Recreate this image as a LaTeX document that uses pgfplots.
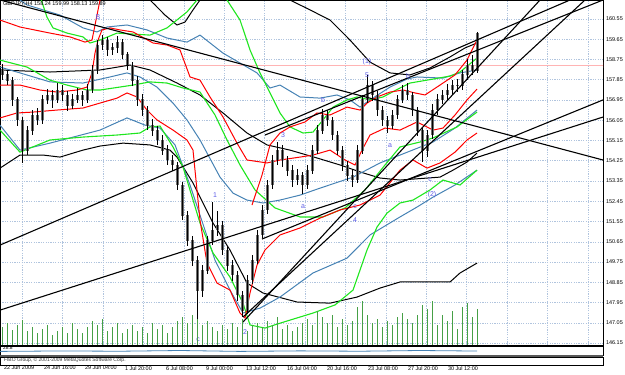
\documentclass[border=0pt]{standalone}
\usepackage{pgfplots}
\pgfplotsset{compat=1.18}
\usepackage{pgfplotstable}
\usepackage{fontspec}
\setmainfont{Liberation Sans}
\definecolor{mtred}{RGB}{255,0,0}
\definecolor{mtgreen}{RGB}{30,230,30}
\definecolor{mtblue}{RGB}{70,130,180}
\definecolor{mtgrid}{RGB}{176,196,222}
\definecolor{mtlbl}{RGB}{90,90,230}
\definecolor{mtvol}{RGB}{70,160,70}
\definecolor{mtbody}{RGB}{110,110,110}

\pgfplotstableread{
x o h l c
2 158.30 158.55 157.85 158.06
7 158.06 158.25 157.60 157.83
12 157.83 157.95 156.70 156.95
17 156.95 157.10 155.80 156.06
22 156.06 156.20 154.15 154.72
27 154.72 155.80 154.50 155.61
32 155.61 156.50 155.40 156.28
37 156.28 156.60 155.85 156.06
42 156.06 157.15 155.90 156.95
47 156.95 157.45 156.75 157.17
52 157.17 157.40 156.60 156.95
57 156.95 157.70 156.80 157.39
62 157.39 157.60 156.90 157.17
67 157.17 157.35 156.45 156.72
72 156.72 157.20 156.55 156.95
77 156.95 157.50 156.80 157.17
82 157.17 157.35 156.70 156.95
87 156.95 157.65 156.80 157.39
92 157.39 158.50 157.25 158.28
97 158.28 159.60 158.10 159.39
102 159.39 159.85 159.15 159.61
107 159.61 159.75 158.90 159.17
112 159.17 159.50 158.95 159.26
117 159.26 159.80 159.05 159.52
122 159.52 159.65 158.75 158.95
127 158.95 159.10 158.30 158.50
132 158.50 158.65 157.55 157.83
137 157.83 158.00 156.70 156.95
142 156.95 157.20 156.25 156.50
147 156.50 156.70 155.60 155.83
152 155.83 156.10 155.35 155.61
157 155.61 155.80 154.95 155.17
162 155.17 155.40 154.50 154.72
167 154.72 154.95 154.05 154.28
172 154.28 154.50 153.80 154.06
177 154.06 154.20 152.95 153.17
182 153.17 153.30 151.60 151.83
187 151.83 152.00 150.45 150.72
192 150.72 150.90 149.55 149.83
197 149.83 150.00 147.00 148.50
202 148.50 149.60 148.20 149.39
207 149.39 150.90 149.20 150.72
212 150.72 152.40 150.50 151.17
217 151.17 152.00 150.90 151.39
222 151.39 151.55 150.05 150.28
227 150.28 150.45 149.35 149.61
232 149.61 149.85 148.90 149.17
237 149.17 149.35 148.00 148.28
242 148.28 148.45 147.30 147.61
247 147.61 149.15 147.45 148.95
252 148.95 150.05 148.75 149.83
257 149.83 151.15 149.65 150.95
262 150.95 152.30 150.80 152.06
267 152.06 153.40 151.90 153.17
272 153.17 154.50 153.00 154.28
277 154.28 155.10 154.05 154.72
282 154.72 154.95 153.95 154.28
287 154.28 154.45 153.55 153.83
292 153.83 154.05 153.10 153.39
297 153.39 153.90 153.15 153.61
302 153.61 153.75 152.75 153.17
307 153.17 154.05 153.00 153.83
312 153.83 154.95 153.65 154.72
317 154.72 155.85 154.55 155.61
322 155.61 156.55 155.45 156.28
327 156.28 156.50 155.80 156.06
332 156.06 156.20 155.15 155.39
337 155.39 155.55 154.50 154.72
342 154.72 154.90 153.80 154.06
347 154.06 154.25 153.35 153.61
352 153.61 153.85 153.10 153.39
357 153.39 154.95 153.25 154.72
362 154.72 157.15 154.55 156.95
367 156.95 158.05 156.80 157.61
372 157.61 157.80 156.90 157.17
377 157.17 157.35 156.25 156.50
382 156.50 156.70 155.80 156.06
387 156.06 156.25 155.50 155.83
392 155.83 156.50 155.65 156.28
397 156.28 157.15 156.10 156.95
402 156.95 157.60 156.80 157.39
407 157.39 157.70 156.95 157.17
412 157.17 157.30 156.25 156.50
417 156.50 156.65 155.35 155.61
422 155.61 155.75 154.20 154.72
427 154.72 155.60 154.40 155.39
432 155.39 156.75 155.20 156.50
437 156.50 157.20 156.30 156.95
442 156.95 157.40 156.75 157.17
447 157.17 157.65 156.95 157.39
452 157.39 157.85 157.15 157.61
457 157.61 157.90 157.30 157.61
462 157.61 158.30 157.40 158.06
467 158.06 158.75 157.85 158.50
472 158.50 158.95 158.05 158.24
477 158.24 159.99 158.13 159.89
}\candles

\pgfplotstableread{
x v
2 360
7 440
12 300
17 400
22 500
27 280
32 360
37 240
42 320
47 400
52 200
57 280
62 360
67 240
72 440
77 320
82 240
87 360
92 480
97 400
102 520
107 280
112 360
117 440
122 240
127 320
132 400
137 280
142 360
147 240
152 440
157 320
162 400
167 240
172 360
177 480
182 560
187 440
192 600
197 520
202 400
207 480
212 360
217 280
222 400
227 320
232 440
237 360
242 520
247 280
252 400
257 440
262 360
267 480
272 400
277 560
282 320
287 400
292 280
297 360
302 440
307 520
312 400
317 680
322 560
327 440
332 600
337 360
342 520
347 400
352 480
357 760
362 880
367 600
372 440
377 520
382 360
387 480
392 400
397 560
402 640
407 520
412 440
417 600
422 800
427 720
432 880
437 400
442 600
447 480
452 680
457 320
462 760
467 840
472 560
477 720
}\volumes

\begin{document}
\begin{tikzpicture}[x=1bp,y=1bp]
\path[use as bounding box] (0,0) rectangle (625,374);
\fontsize{5.5}{6.5}\selectfont
% ---------------- main price window
\begin{axis}[
  at={(0,29bp)}, anchor=south west,
  width=603bp, height=345bp, scale only axis,
  xmin=0, xmax=603, ymin=146.06, ymax=161.39,
  axis line style={black, line width=0.6bp},
  xtick={22,62,103,143,184,224,264,305,345,386,426,466,507,547,588},
  xticklabels={},
  major tick length=0pt,
  ytick={146.15,147.05,147.95,148.85,149.75,150.65,151.55,152.45,153.35,154.25,155.15,156.05,156.95,157.85,158.75,159.65,160.55},
  yticklabel pos=right,
  yticklabel style={font=\fontsize{5.5}{6.5}\selectfont, xshift=1bp},
  /pgf/number format/.cd, fixed, fixed zerofill, precision=2, 1000 sep={}, assume math mode=true,
  /pgfplots/.cd,
  ytick pos=right,
  grid=major,
  grid style={mtgrid, dash pattern=on 1.2bp off 1.2bp, line width=0.4bp},
  clip=true,
]
\addplot[draw={rgb,255:red,255;green,180;blue,180}, line width=0.8bp] coordinates {(0,158.50) (603,158.50)};
% black bands
\addplot[black, line width=1bp] coordinates {(140,161.83) (155,161.17) (165,160.72) (177,160.28) (185,160.41) (193,160.95) (200,161.39) (205,161.83) (285,161.83) (290,161.39) (310,160.95) (330,160.50) (350,159.61) (370,158.63) (390,158.15) (410,158.06) (430,158.37) (450,158.86) (465,159.26) (477,159.48)};
\addplot[black, line width=1bp] coordinates {(0,158.28) (50,158.19) (100,158.28) (130,158.50) (150,158.28) (177,157.70) (200,157.17) (223,156.37) (247,155.48) (267,154.95) (290,154.72) (317,154.37) (340,154.06) (360,153.75) (380,153.48) (400,153.39) (440,153.52) (453,153.83) (467,154.19) (477,154.59)};
\addplot[black, line width=1bp] coordinates {(0,153.92) (20,154.50) (43,154.50) (60,154.41) (83,154.72) (100,154.90) (123,155.03) (150,154.95) (170,154.72) (177,154.41) (193,153.26) (213,151.48) (230,150.28) (247,148.81) (263,148.37) (297,147.97) (330,147.92) (357,148.19) (380,148.59) (400,148.86) (450,148.86) (460,149.26) (477,149.70)};
% blue bands
\addplot[mtblue, line width=1bp] coordinates {(20,161.39) (27,161.17) (60,160.72) (83,160.15) (97,159.97) (107,160.19) (127,160.28) (147,160.06) (167,159.70) (187,159.52) (200,159.83) (223,159.03) (257,158.15) (270,157.48) (280,157.61) (300,157.08) (320,157.03) (337,157.17) (350,156.95) (360,156.63) (370,156.95) (390,157.52) (407,157.88) (417,157.97) (443,157.92) (460,158.15) (477,158.28)};
\addplot[mtblue, line width=1bp] coordinates {(0,158.41) (20,158.15) (50,157.75) (83,157.70) (110,157.97) (127,158.15) (140,157.97) (157,157.52) (173,156.81) (187,156.06) (200,155.17) (220,153.52) (233,152.81) (247,152.50) (263,152.37) (280,152.50) (300,152.72) (320,153.03) (353,153.52) (380,154.15) (400,154.50) (433,155.08) (455,155.70) (477,156.50)};
\addplot[mtblue, line width=1bp] coordinates {(0,155.83) (20,154.72) (50,155.03) (100,155.61) (127,156.15) (145,155.83) (160,155.70) (175,154.95) (190,153.17) (200,151.83) (215,149.83) (230,148.50) (243,147.48) (260,147.70) (280,148.19) (313,149.26) (347,149.92) (370,150.95) (400,151.75) (417,152.19) (433,152.63) (455,153.17) (477,153.83)};
% green bands
\addplot[mtgreen, line width=1.1bp] coordinates {(38,161.83) (47,160.63) (53,160.15) (67,159.92) (83,159.75) (90,159.48) (100,159.61) (117,159.92) (150,159.83) (167,160.15) (187,160.86) (197,161.39) (205,162.06) (222,162.06) (227,161.39) (240,160.50) (250,159.17) (260,158.15) (270,157.26) (280,156.37) (290,155.75) (303,155.48) (313,155.52) (323,156.06) (333,156.63) (347,156.95) (357,157.08) (370,156.95) (383,157.08) (400,157.48) (410,157.70) (427,157.83) (450,158.01) (460,158.19) (477,158.81)};
\addplot[mtgreen, line width=1.1bp] coordinates {(0,158.72) (27,158.41) (50,157.83) (67,157.61) (87,157.39) (100,157.39) (133,157.61) (150,157.75) (167,157.70) (183,157.48) (200,157.30) (215,156.28) (227,155.17) (240,154.06) (255,152.95) (275,152.15) (300,151.75) (323,151.75) (345,152.15) (365,152.95) (385,154.06) (400,154.86) (420,155.08) (433,155.26) (457,155.75) (477,156.41)};
\addplot[mtgreen, line width=1.1bp] coordinates {(0,155.61) (20,154.63) (50,155.17) (83,155.30) (117,155.39) (140,155.48) (150,155.75) (160,155.79) (173,154.86) (183,153.97) (200,151.48) (213,150.15) (230,149.08) (243,147.92) (250,146.95) (265,146.81) (280,147.03) (313,147.48) (335,147.84) (353,148.50) (367,150.28) (377,151.30) (387,151.92) (400,152.37) (413,152.50) (430,152.95) (443,153.39) (460,153.17) (477,153.83)};
% red bands
\addplot[mtred, line width=1bp] coordinates {(0,160.50) (20,160.19) (50,159.92) (70,159.75) (85,159.52) (92,159.61) (97,160.72) (102,161.83)};
\addplot[mtred, line width=1bp] coordinates {(0,157.61) (20,157.61) (40,157.39) (57,157.30) (77,157.39) (87,157.52) (92,158.15) (95,159.03) (98,159.61) (102,160.06) (110,160.15) (120,160.06) (133,159.97) (153,159.48) (167,159.39) (180,159.17) (190,157.97) (200,157.83) (210,157.08) (223,156.19) (237,155.03) (247,154.28) (267,154.15) (280,154.28) (300,154.41) (313,154.50) (330,154.72) (345,154.28) (355,154.06) (362,154.72) (370,155.39) (385,155.70) (400,155.61) (417,155.97) (433,155.61) (443,155.70) (455,156.28) (467,156.95) (477,157.43)};
\addplot[mtred, line width=1bp] coordinates {(0,156.15) (17,156.37) (33,156.41) (57,156.50) (83,156.59) (100,156.81) (117,157.03) (127,157.26) (137,157.08) (147,156.50) (157,156.06) (173,155.61) (187,155.17) (193,154.72) (200,151.61) (207,149.70) (217,148.81) (230,148.50) (240,147.48) (245,147.26) (250,148.37) (257,149.61) (265,150.28) (280,150.95) (300,151.26) (320,151.70) (340,152.06) (360,152.28) (380,152.72) (400,153.83) (413,154.28) (427,153.92) (440,154.15) (455,154.63) (467,155.17) (477,155.48)};
\addplot[mtred, line width=1bp] coordinates {(252,152.28) (262,153.61) (270,154.95) (280,155.48) (290,155.75) (305,155.97) (317,156.37) (330,156.28) (347,156.63) (360,156.50) (367,156.81) (377,157.08) (390,157.30) (403,157.39) (415,157.26) (425,157.17) (440,157.61) (455,158.06) (467,158.72) (477,159.61)};
% candles: bodies then wicks
\addplot[mtbody, mark=none, draw=none, error bars/.cd, y dir=both, y explicit, error mark=none, error bar style={mtbody, line width=3bp}]
  table[x=x, y expr={0.5*(\thisrow{o}+\thisrow{c})}, y error expr={0.5*abs(\thisrow{o}-\thisrow{c})+0.02}] {\candles};
\addplot[black, mark=none, draw=none, error bars/.cd, y dir=both, y explicit, error mark=none, error bar style={black, line width=0.7bp}]
  table[x=x, y expr={0.5*(\thisrow{h}+\thisrow{l})}, y error expr={0.5*(\thisrow{h}-\thisrow{l})}] {\candles};
% trend lines
\addplot[black, line width=1.1bp] coordinates {(0,161.39) (603,154.28)};
\addplot[black, line width=1.1bp] coordinates {(0,150.50) (570,161.39)};
\addplot[black, line width=1.1bp] coordinates {(0,147.61) (603,156.19)};
\addplot[black, line width=1.1bp] coordinates {(262,150.77) (603,156.95)};
\addplot[black, line width=1.1bp] coordinates {(265,155.39) (603,161.39)};
\addplot[black, line width=1.1bp] coordinates {(243,147.08) (540,161.39)};
\addplot[black, line width=1.1bp] coordinates {(243,147.30) (585,161.39)};
% wave labels
\node[mtlbl, font=\fontsize{7}{8}\selectfont] at (axis cs:98,160.63) {B};
\node[mtlbl, font=\fontsize{7}{8}\selectfont] at (axis cs:215,152.72) {1};
\node[mtlbl, font=\fontsize{7}{8}\selectfont] at (axis cs:245,146.63) {2};
\node[mtlbl, font=\fontsize{7}{8}\selectfont] at (axis cs:198,146.28) {c};
\node[mtlbl, font=\fontsize{7}{8}\selectfont] at (axis cs:283,155.39) {3};
\node[mtlbl, font=\fontsize{7}{8}\selectfont] at (axis cs:303,152.19) {a};
\node[mtlbl, font=\fontsize{7}{8}\selectfont] at (axis cs:323,156.95) {b};
\node[mtlbl, font=\fontsize{7}{8}\selectfont] at (axis cs:355,152.19) {c};
\node[mtlbl, font=\fontsize{7}{8}\selectfont] at (axis cs:355,151.61) {4};
\node[mtlbl, font=\fontsize{7}{8}\selectfont] at (axis cs:367,158.63) {(1)};
\node[mtlbl, font=\fontsize{7}{8}\selectfont] at (axis cs:367,158.06) {5};
\node[mtlbl, font=\fontsize{7}{8}\selectfont] at (axis cs:390,154.90) {a};
\node[mtlbl, font=\fontsize{7}{8}\selectfont] at (axis cs:408,158.01) {b};
\node[mtlbl, font=\fontsize{7}{8}\selectfont] at (axis cs:430,153.39) {c};
\node[mtlbl, font=\fontsize{7}{8}\selectfont] at (axis cs:432,152.72) {(2)};
\node[anchor=north west, inner sep=1bp, font=\fontsize{5.5}{6.5}\selectfont] at (axis cs:2,161.39) {GBPJPY,H4 158.24 159.99 158.13 159.89};
\node[fill={rgb,255:red,255;green,120;blue,120}, text=white, inner sep=0.8bp, anchor=west, font=\fontsize{5.5}{6.5}\selectfont] at (axis cs:603,158.50) {158.50};
\node[fill={rgb,255:red,0;green,0;blue,60}, text=white, inner sep=0.8bp, anchor=west, font=\fontsize{5.5}{6.5}\selectfont] at (axis cs:603,159.89) {159.89};
\end{axis}
% volume overlay
\begin{axis}[
  at={(0,29bp)}, anchor=south west,
  width=603bp, height=345bp, scale only axis,
  xmin=0, xmax=603, ymin=0, ymax=6900,
  hide axis, clip=true,
]
\addplot[ycomb, mtvol, line width=1bp, mark=none] table[x=x, y=v] {\volumes};
\end{axis}
% indicator strip 1
\begin{axis}[
  at={(0,19bp)}, anchor=south west,
  width=603bp, height=9bp, scale only axis,
  xmin=0, xmax=603, ymin=0, ymax=10,
  axis line style={black, line width=0.6bp},
  xtick=\empty, ytick=\empty,
]
\addplot[mtblue, line width=0.8bp] coordinates {(0,4) (60,4.5) (120,4.2) (180,5) (240,4) (300,4.6) (360,4.2) (420,5) (477,4.4)};
\end{axis}
\fill[gray!70!black] (0,17) rectangle (603,19);
% indicator strip 2
\begin{axis}[
  at={(0,9bp)}, anchor=south west,
  width=603bp, height=8bp, scale only axis,
  xmin=0, xmax=603, ymin=0, ymax=10,
  axis line style={black, line width=0.6bp},
  xtick={22,62,103,143,184,224,264,305,345,386,426,466},
  xticklabels={22 Jun 2009,24 Jun 16:00,29 Jun 04:00,1 Jul 20:00,6 Jul 08:00,9 Jul 00:00,13 Jul 12:00,16 Jul 04:00,20 Jul 16:00,23 Jul 08:00,27 Jul 20:00,30 Jul 12:00},
  xticklabel style={anchor=north west, xshift=-20bp, yshift=1bp, font=\fontsize{5.5}{6.5}\selectfont},
  major tick length=0pt,
  ytick=\empty,
]
\node[anchor=west, gray!40!black, font=\fontsize{5}{6}\selectfont] at (axis cs:2,6) {FIBO Group, \textcopyright\ 2001-2009 MetaQuotes Software Corp.};
\end{axis}
\node[anchor=west, font=\fontsize{5}{6}\selectfont] at (1,26) {28.8};
\end{tikzpicture}
\end{document}
